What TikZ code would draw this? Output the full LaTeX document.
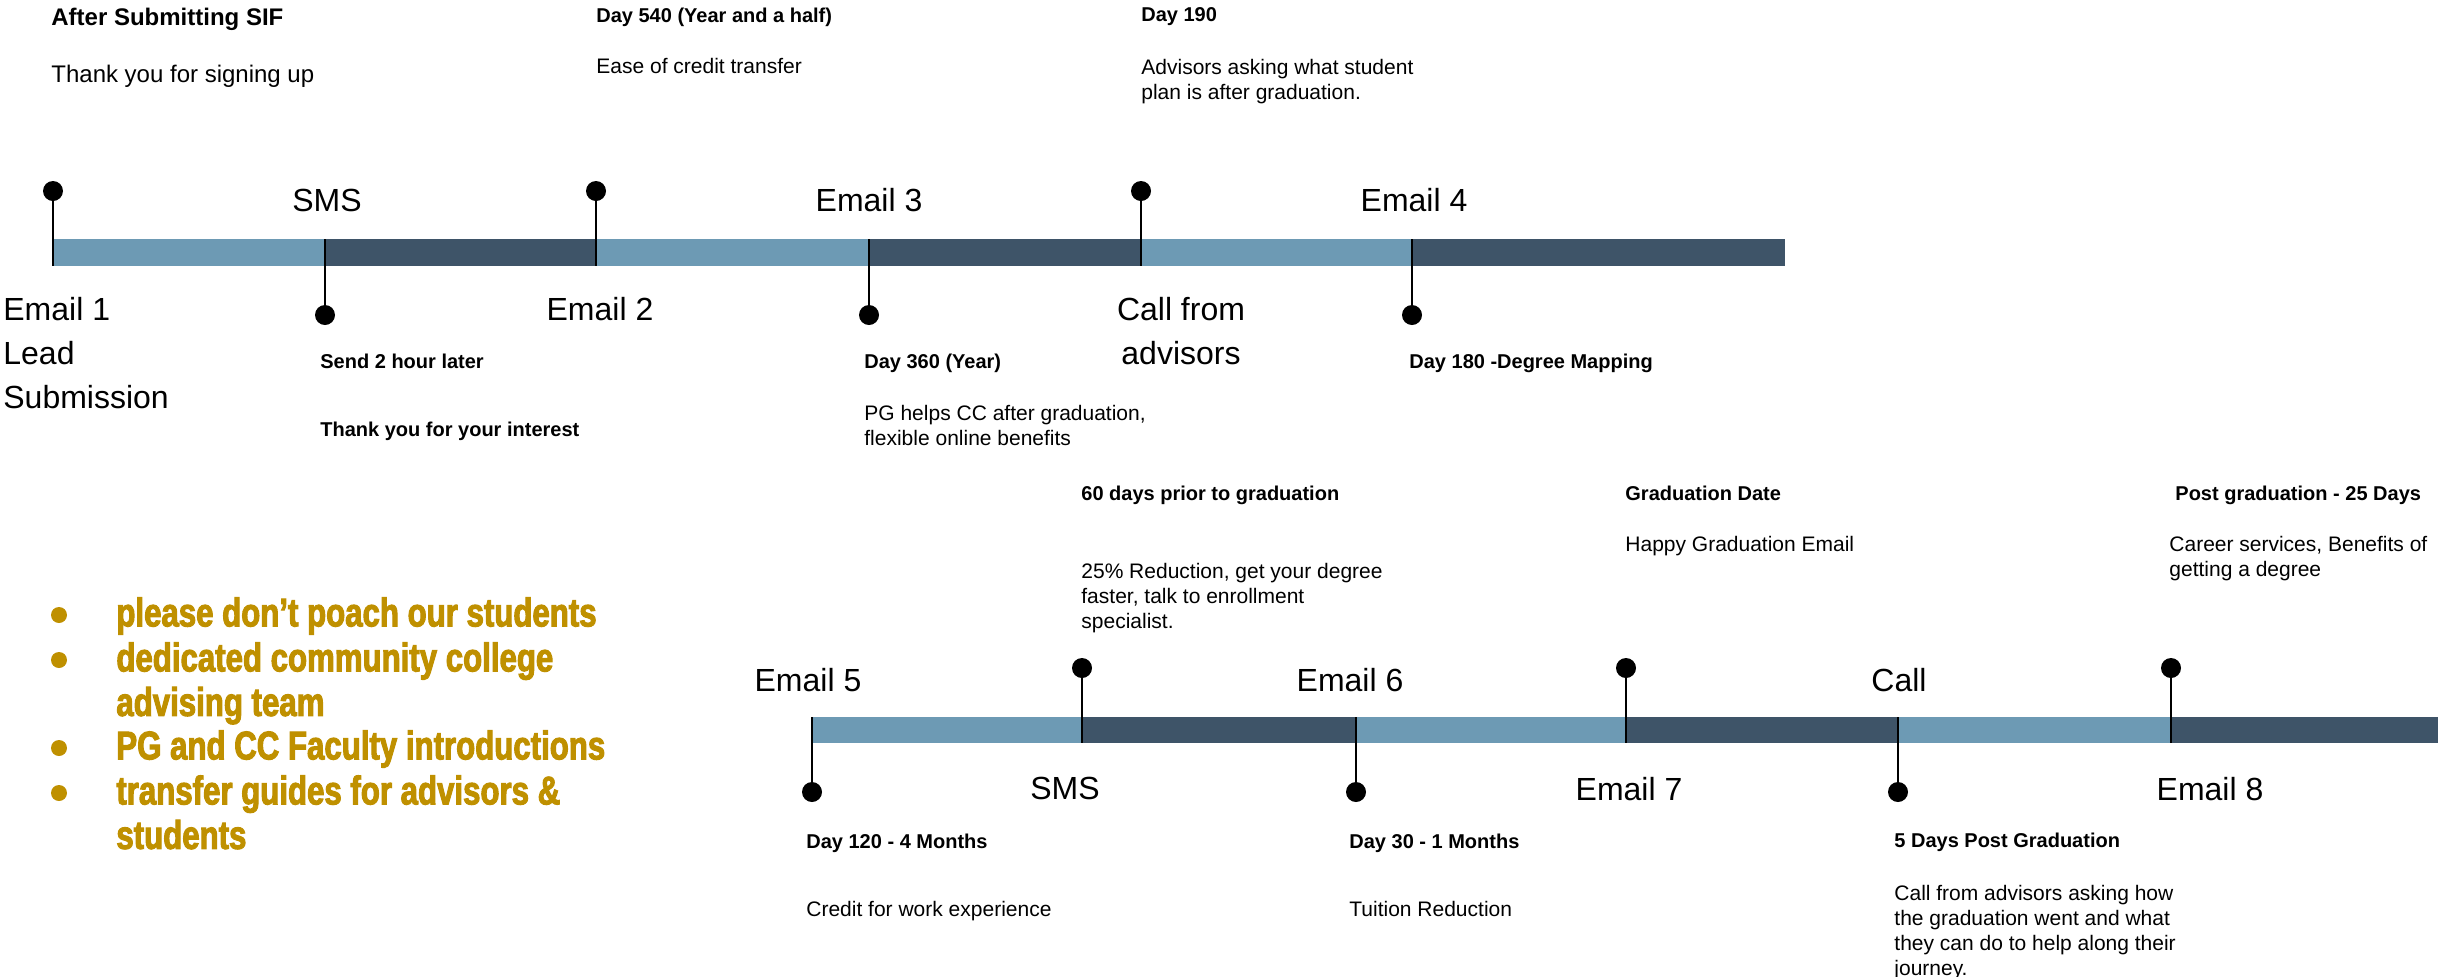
\documentclass[tikz,border=0pt]{standalone}
\usepackage{fontspec}
\setmainfont{Liberation Sans}
\newfontfamily\goldfont[FakeStretch=0.78,FakeBold=2.5]{Liberation Sans}
\definecolor{lightbar}{HTML}{6D9AB4}
\definecolor{darkbar}{HTML}{3E5468}
\definecolor{gold}{HTML}{BF9000}
\tikzset{
  dot/.style={circle, fill=black, inner sep=0pt, minimum size=10pt},
  stem/.style={line width=1pt, black},
  lbl/.style={font=\fontsize{16}{22}\selectfont, inner sep=0pt, anchor=north, align=center},
  lbll/.style={font=\fontsize{16}{22}\selectfont, inner sep=0pt, anchor=north west, align=left},
  head/.style={font=\bfseries\fontsize{10}{12.5}\selectfont, inner sep=0pt, anchor=north west, align=left},
  body/.style={font=\fontsize{10.5}{12.5}\selectfont, inner sep=0pt, anchor=north west, align=left},
  headL/.style={font=\bfseries\fontsize{12}{14}\selectfont, inner sep=0pt, anchor=north west, align=left},
  bodyL/.style={font=\fontsize{12}{14}\selectfont, inner sep=0pt, anchor=north west, align=left},
  golditem/.style={font=\goldfont\bfseries\fontsize{20}{22.25}\selectfont, text=gold, inner sep=0pt, anchor=north west, align=left},
  goldbullet/.style={circle, fill=gold, inner sep=0pt, minimum size=8pt}
}
\begin{document}
\begin{tikzpicture}[x=0.5pt,y=-0.5pt]
\useasboundingbox (0,0) rectangle (2438,976);
% ---------- top timeline bar
\fill[lightbar] (53,239) rectangle (325,266);
\fill[darkbar]  (325,239) rectangle (596,266);
\fill[lightbar] (596,239) rectangle (869,266);
\fill[darkbar]  (869,239) rectangle (1141,266);
\fill[lightbar] (1141,239) rectangle (1412,266);
\fill[darkbar]  (1412,239) rectangle (1785,266);
\coordinate (ttop) at (0,239);
\coordinate (tbot) at (0,266);
% dots
\node[dot] (t1) at (53,191) {};
\node[dot] (t2) at (325,315) {};
\node[dot] (t3) at (596,191) {};
\node[dot] (t4) at (869,315) {};
\node[dot] (t5) at (1141,191) {};
\node[dot] (t6) at (1412,315) {};
\draw[stem] (t1.center) -- (t1 |- tbot);
\draw[stem] (t3.center) -- (t3 |- tbot);
\draw[stem] (t5.center) -- (t5 |- tbot);
\draw[stem] (t2.center) -- (t2 |- ttop);
\draw[stem] (t4.center) -- (t4 |- ttop);
\draw[stem] (t6.center) -- (t6 |- ttop);
% ---------- bottom timeline bar
\fill[lightbar] (812,717) rectangle (1082,743);
\fill[darkbar]  (1082,717) rectangle (1356,743);
\fill[lightbar] (1356,717) rectangle (1626,743);
\fill[darkbar]  (1626,717) rectangle (1898,743);
\fill[lightbar] (1898,717) rectangle (2171,743);
\fill[darkbar]  (2171,717) rectangle (2438,743);
\coordinate (btop) at (0,717);
\coordinate (bbot) at (0,743);
\node[dot] (b1) at (812,792) {};
\node[dot] (b2) at (1082,668) {};
\node[dot] (b3) at (1356,792) {};
\node[dot] (b4) at (1626,668) {};
\node[dot] (b5) at (1898,792) {};
\node[dot] (b6) at (2171,668) {};
\draw[stem] (b1.center) -- (b1 |- btop);
\draw[stem] (b3.center) -- (b3 |- btop);
\draw[stem] (b5.center) -- (b5 |- btop);
\draw[stem] (b2.center) -- (b2 |- bbot);
\draw[stem] (b4.center) -- (b4 |- bbot);
\draw[stem] (b6.center) -- (b6 |- bbot);
% ---------- top timeline labels
\node[lbl] (lsms1) at (327,189) {SMS};
\node[lbl] (le3) at (869,188) {Email 3};
\node[lbl] (le4) at (1414,188) {Email 4};
\node[lbll] (le1) at (3,297) {Email 1\\Lead\\Submission};
\node[lbl] (le2) at (600,297) {Email 2};
\node[lbl] (lcall1) at (1181,297) {Call from\\advisors};
% top annotations
\node[headL] (a1h) at (51,8) {After Submitting SIF};
\node[bodyL] (a1b) at (51,65) {Thank you for signing up};
\node[head] (a2h) at (596,8) {Day 540 (Year and a half)};
\node[body] (a2b) at (596,58) {Ease of credit transfer};
\node[head] (a3h) at (1141,7) {Day 190};
\node[body] (a3b) at (1141,59) {Advisors asking what student\\plan is after graduation.};
\node[head] (a4h) at (320,354) {Send 2 hour later};
\node[head] (a4b) at (320,422) {Thank you for your interest};
\node[head] (a5h) at (864,354) {Day 360 (Year)};
\node[body] (a5b) at (864,405) {PG helps CC after graduation,\\flexible online benefits};
\node[head] (a6h) at (1409,354) {Day 180 -Degree Mapping};
% ---------- bottom timeline labels
\node[lbl] (le5) at (808,668) {Email 5};
\node[lbl] (le6) at (1350,668) {Email 6};
\node[lbl] (lcall2) at (1899,668) {Call};
\node[lbl] (lsms2) at (1065,777) {SMS};
\node[lbl] (le7) at (1629,777) {Email 7};
\node[lbl] (le8) at (2210,777) {Email 8};
% bottom annotations
\node[head] (c1h) at (1081,486) {60 days prior to graduation};
\node[body] (c1b) at (1081,563) {25\% Reduction, get your degree\\faster, talk to enrollment\\specialist.};
\node[head] (c2h) at (1625,486) {Graduation Date};
\node[body] (c2b) at (1625,536) {Happy Graduation Email};
\node[head] (c3h) at (2175,486) {Post graduation - 25 Days};
\node[body] (c3b) at (2169,536) {Career services, Benefits of\\getting a degree};
\node[head] (d1h) at (806,834) {Day 120 - 4 Months};
\node[body] (d1b) at (806,901) {Credit for work experience};
\node[head] (d2h) at (1349,834) {Day 30 - 1 Months};
\node[body] (d2b) at (1349,901) {Tuition Reduction};
\node[head] (d3h) at (1894,833) {5 Days Post Graduation};
\node[body] (d3b) at (1894,885) {Call from advisors asking how\\the graduation went and what\\they can do to help along their\\journey.};
% ---------- gold list
\node[goldbullet] (g1) at (59,615) {};
\node[goldbullet] (g2) at (59,660) {};
\node[goldbullet] (g3) at (59,748) {};
\node[goldbullet] (g4) at (59,793) {};
\node[golditem] (gi1) at (116,597) {please don’t poach our students};
\node[golditem] (gi2) at (116,642) {dedicated community college\\advising team};
\node[golditem] (gi3) at (116,730) {PG and CC Faculty introductions};
\node[golditem] (gi4) at (116,775) {transfer guides for advisors \&\\students};
\end{tikzpicture}
\end{document}
